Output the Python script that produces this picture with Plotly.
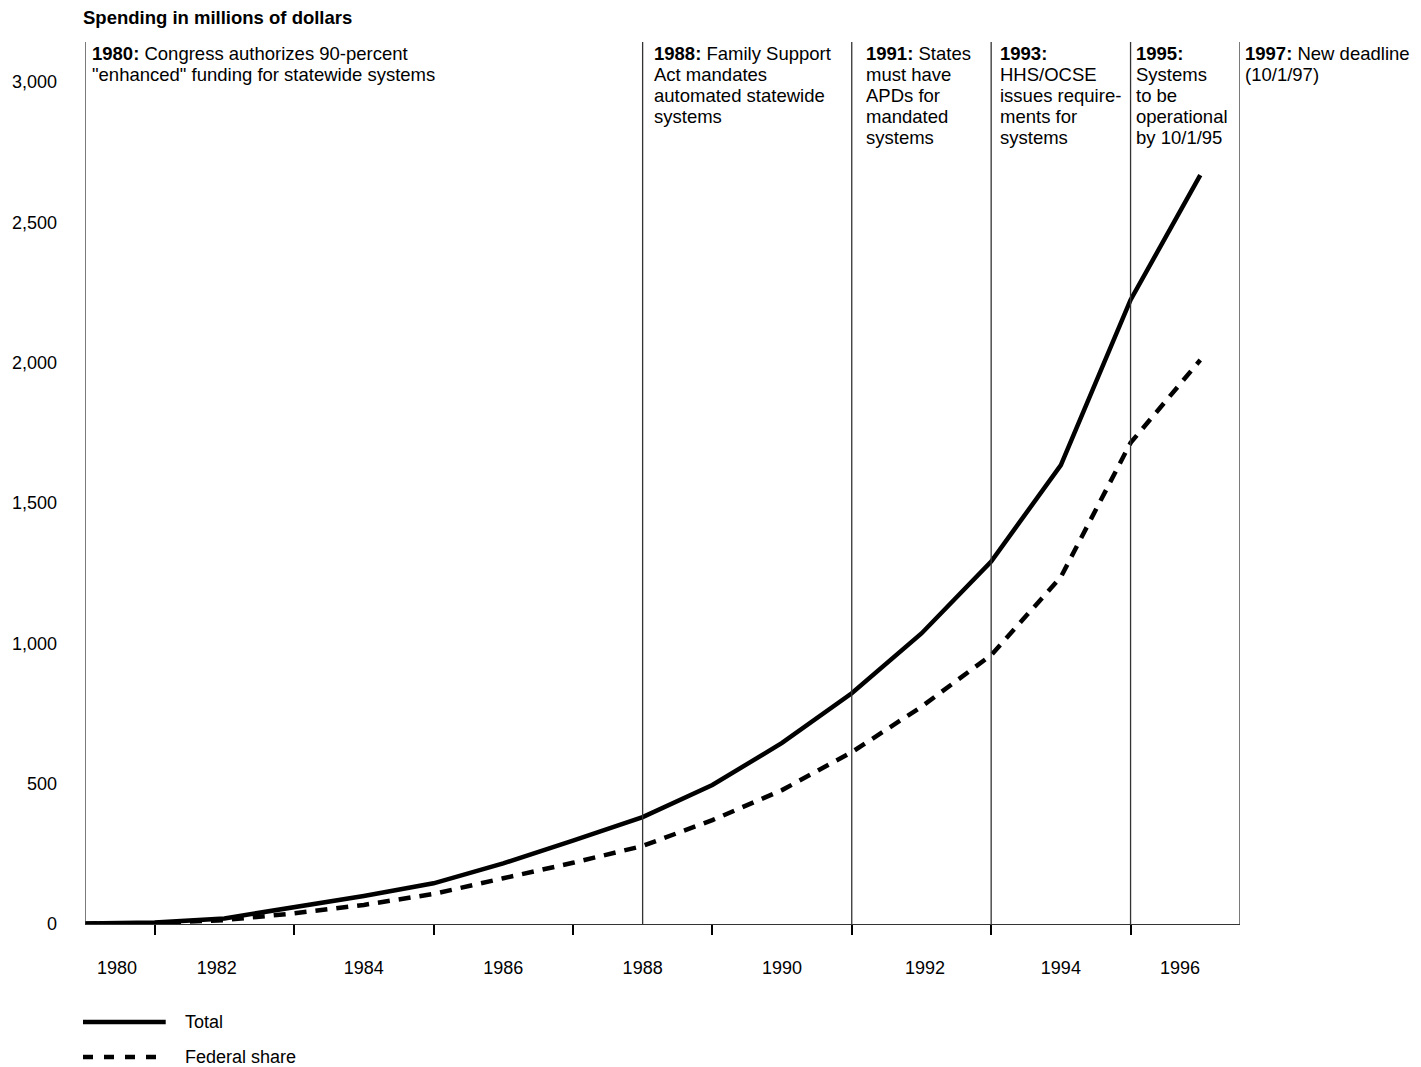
import plotly.graph_objects as go

# ---------------- data ----------------
years = list(range(1980, 1997))
total = [2, 5, 20, 59, 100, 145, 216, 297, 381, 495, 645, 822, 1035, 1291, 1635, 2223, 2668]
federal = [1, 3, 14, 38, 68, 107, 163, 218, 278, 370, 477, 612, 774, 958, 1236, 1714, 2009]

y_ticks = [0, 500, 1000, 1500, 2000, 2500, 3000]
x_label_years = [1980, 1982, 1984, 1986, 1988, 1990, 1992, 1994, 1996]
x_tick_years = [1981, 1983, 1985, 1987, 1989, 1991, 1993, 1995]

event_years = [1980, 1988, 1991, 1993, 1995, 1997]
event_lines = [
    ["<b>1980:</b> Congress authorizes 90-percent", "\"enhanced\" funding for statewide systems"],
    ["<b>1988:</b> Family Support", "Act mandates", "automated statewide", "systems"],
    ["<b>1991:</b> States", "must have", "APDs for", "mandated", "systems"],
    ["<b>1993:</b>", "HHS/OCSE", "issues require-", "ments for", "systems"],
    ["<b>1995:</b>", "Systems", "to be", "operational", "by 10/1/95"],
    ["<b>1997:</b> New deadline", "(10/1/97)"],
]

title_text = "<b>Spending in millions of dollars</b>"
legend_names = ["Total", "Federal share"]

# ---------------- layout constants ----------------
W, H = 1421, 1067
L, R, T, B = 81, 181, 42, 143
X_MIN, X_MAX = 1980, 1996.57
Y_MAX = 3142
FONT = "Liberation Sans, Arial, sans-serif"
FS = 18
LINE_H = 21.0
label_nudge = {1980: 0.46, 1982: -0.11, 1992: 0.05, 1996: -0.29}
text_offset = [5, 9, 12, 7, 3, 3]

plot_w = W - L - R
plot_h = H - T - B


def px_x(p):
    return (p - L) / plot_w


def px_y(p):
    return (H - B - p) / plot_h


fig = go.Figure()
fig.add_trace(go.Scatter(x=years, y=total, mode="lines", name=legend_names[0],
                         line=dict(color="black", width=4.5), showlegend=False))
fig.add_trace(go.Scatter(x=years, y=federal, mode="lines", name=legend_names[1],
                         line=dict(color="black", width=4.5, dash="12px,9px"), showlegend=False))

shapes = []
annotations = []

# event lines and texts
for yr, lines, off in zip(event_years, event_lines, text_offset):
    xv = min(yr, X_MAX)
    shapes.append(dict(type="line", xref="x", yref="paper", x0=xv, x1=xv, y0=0, y1=1,
                       line=dict(color="#333333", width=1.3)))
    for k, t in enumerate(lines):
        annotations.append(dict(x=xv, xref="x", y=1, yref="paper", text=t, showarrow=False,
                                xanchor="left", yanchor="middle", xshift=off,
                                yshift=-(11 + k * LINE_H),
                                font=dict(family=FONT, size=18.5, color="black")))

# title
annotations.append(dict(x=0, xref="paper", y=1, yref="paper", text=title_text, showarrow=False,
                        xanchor="left", yanchor="middle", xshift=-4, yshift=25,
                        font=dict(family=FONT, size=18.5, color="black")))

# manual legend
shapes.append(dict(type="line", xref="paper", yref="paper", x0=px_x(79), x1=px_x(162),
                   y0=px_y(1022), y1=px_y(1022), line=dict(color="black", width=4.5)))
shapes.append(dict(type="line", xref="paper", yref="paper", x0=px_x(79), x1=px_x(156),
                   y0=px_y(1057), y1=px_y(1057), line=dict(color="black", width=4.5, dash="10px,11px")))
for name, py in zip(legend_names, [1022, 1057]):
    annotations.append(dict(x=px_x(179), xref="paper", y=px_y(py), yref="paper", text=name,
                            showarrow=False, xanchor="left", yanchor="middle",
                            font=dict(family=FONT, size=FS, color="black")))

fig.update_layout(
    width=W, height=H,
    margin=dict(l=L, r=R, t=T, b=B, pad=0),
    paper_bgcolor="white", plot_bgcolor="white",
    font=dict(family=FONT, size=FS, color="black"),
    shapes=shapes, annotations=annotations,
    xaxis=dict(range=[X_MIN, X_MAX], showgrid=False, zeroline=False,
               showline=True, linecolor="#333333", linewidth=1.3,
               tickmode="array",
               tickvals=[y + label_nudge.get(y, 0) for y in x_label_years],
               ticktext=[str(y) for y in x_label_years],
               ticks="", ticklabelstandoff=27,
               tickfont=dict(family=FONT, size=FS),
               minor=dict(tickmode="array", tickvals=x_tick_years, ticks="outside",
                          ticklen=10, tickwidth=2, tickcolor="black")),
    yaxis=dict(range=[0, Y_MAX], showgrid=False, zeroline=False, showline=False,
               tickmode="array", tickvals=y_ticks, tickformat=",",
               ticks="", ticklabelstandoff=27,
               tickfont=dict(family=FONT, size=FS)),
)

fig.write_html("out.html",
               config={"displayModeBar": False},
               post_script="document.body.style.margin='0';document.body.style.padding='0';"
                           "document.body.style.overflow='hidden';")
